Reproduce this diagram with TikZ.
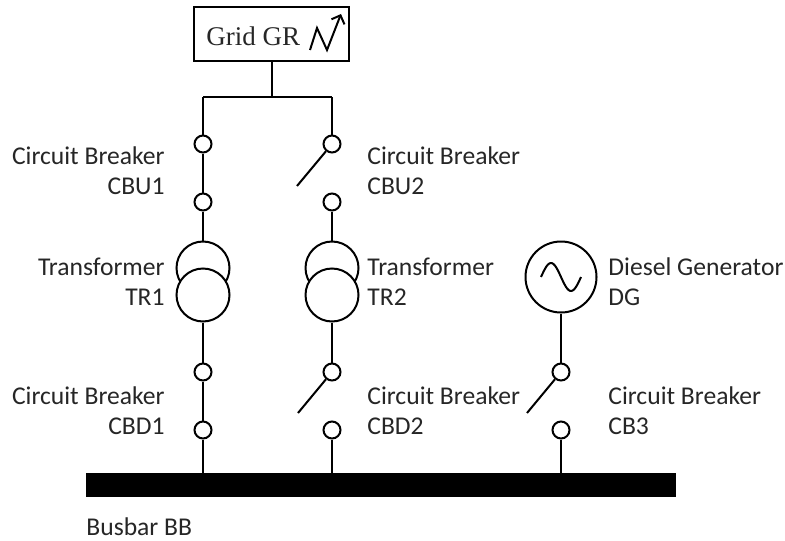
\documentclass[tikz,border=0pt]{standalone}
\usepackage{fontspec}
\setmainfont{Carlito}
\newfontfamily\gridfont{Liberation Serif}
\usepackage{tikz}
\usetikzlibrary{shapes, arrows.meta, positioning}
\tikzstyle{wire} = [line width=1pt]
\tikzstyle{contact} = [draw, circle, fill=white, line width=1pt,
    minimum size=8.5pt, inner sep=0pt]
\tikzstyle{winding} = [draw, circle, fill=white, line width=1pt,
    minimum size=26.5pt, inner sep=0pt]
\tikzstyle{tag} = [inner sep=0pt, text=black!85,
    font=\fontsize{12.8}{15}\selectfont]

\begin{document}
\begin{tikzpicture}[x=0.5pt, y=-0.5pt]
    \useasboundingbox (0,0) rectangle (785,540);

    % grid connection
    \node[draw, line width=1pt, minimum width=77.5pt, minimum height=27pt] (grid) at (271.5,34) {};
    \node[anchor=west, inner sep=0pt, text=black!85, font=\gridfont\fontsize{13.5}{16}\selectfont] (gridtext) at (206,36) {Grid GR};
    \draw[wire, -{Straight Barb[length=3.5pt]}] (310,50) -- (317,28) -- (327,50) -- (341,14);
    \coordinate (split) at (271.5,97);
    \coordinate (splitL) at (203,97);
    \coordinate (splitR) at (332,97);
    \draw[wire] (grid.south) -- (split);
    \draw[wire] (splitL) -- (splitR);

    % busbar
    \node[fill, minimum width=295pt, minimum height=12pt, inner sep=0pt] (BB) at (381,485) {};
    \node[tag, anchor=west] (BBlabel) at (86,527) {Busbar BB};

    % feeder 1
    \node[contact] (CBU1a) at (203,144) {};
    \node[contact] (CBU1b) at (203,202) {};
    \node[winding] (TR1a) at (203,268) {};
    \node[winding] (TR1b) at (203,295) {};
    \node[contact] (CBD1a) at (203,372) {};
    \node[contact] (CBD1b) at (203,430) {};
    \draw[wire] (splitL) -- (CBU1a);
    \draw[wire] (CBU1a) -- (CBU1b);
    \draw[wire] (CBU1b) -- (TR1a);
    \draw[wire] (TR1b) -- (CBD1a);
    \draw[wire] (CBD1a) -- (CBD1b);
    \draw[wire] (CBD1b) -- (CBD1b |- BB.north);
    \node[tag, anchor=east, align=right] (CBU1label) at (165,171) {Circuit Breaker\\CBU1};
    \node[tag, anchor=east, align=right] (TR1label) at (165,282) {Transformer\\TR1};
    \node[tag, anchor=east, align=right] (CBD1label) at (165,411) {Circuit Breaker\\CBD1};

    % feeder 2
    \node[contact] (CBU2a) at (332,144) {};
    \node[contact] (CBU2b) at (332,202) {};
    \node[winding] (TR2a) at (332,268) {};
    \node[winding] (TR2b) at (332,295) {};
    \node[contact] (CBD2a) at (332,372) {};
    \node[contact] (CBD2b) at (332,430) {};
    \coordinate (CBU2open) at (297,186);
    \coordinate (CBD2open) at (298,413);
    \draw[wire] (splitR) -- (CBU2a);
    \draw[wire] (CBU2a) -- (CBU2open);
    \draw[wire] (CBU2b) -- (TR2a);
    \draw[wire] (TR2b) -- (CBD2a);
    \draw[wire] (CBD2a) -- (CBD2open);
    \draw[wire] (CBD2b) -- (CBD2b |- BB.north);
    \node[tag, anchor=west, align=left] (CBU2label) at (367,171) {Circuit Breaker\\CBU2};
    \node[tag, anchor=west, align=left] (TR2label) at (367,282) {Transformer\\TR2};
    \node[tag, anchor=west, align=left] (CBD2label) at (367,411) {Circuit Breaker\\CBD2};

    % diesel generator
    \node[draw, circle, line width=1pt, minimum size=35.5pt, inner sep=0pt] (DG) at (561,277) {};
    \draw[wire] plot[domain=-1:1, smooth, samples=30] ({561+20*\x}, {277+14*sin(\x*180)});
    \node[contact] (CB3a) at (561,372) {};
    \node[contact] (CB3b) at (561,430) {};
    \coordinate (CB3open) at (527,413);
    \draw[wire] (DG) -- (CB3a);
    \draw[wire] (CB3a) -- (CB3open);
    \draw[wire] (CB3b) -- (CB3b |- BB.north);
    \node[tag, anchor=west, align=left] (DGlabel) at (608,282) {Diesel Generator\\DG};
    \node[tag, anchor=west, align=left] (CB3label) at (608,411) {Circuit Breaker\\CB3};
\end{tikzpicture}
\end{document}
